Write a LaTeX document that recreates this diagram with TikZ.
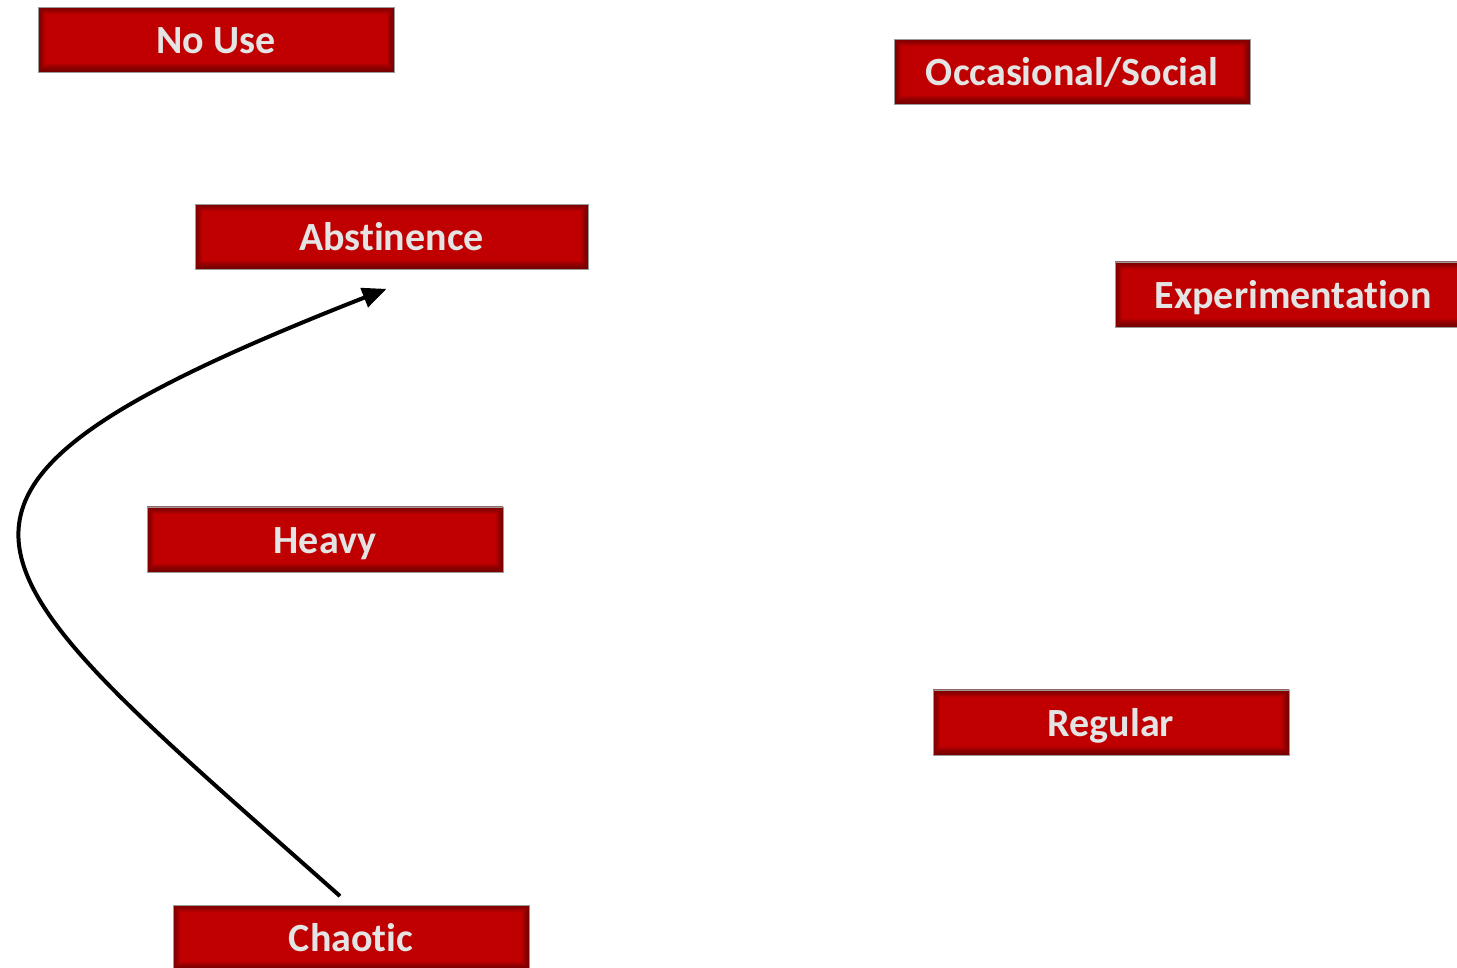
\documentclass[tikz,border=0pt]{standalone}
\usepackage{fontspec}
\setmainfont{Carlito}[Ligatures=CommonOff]
\usepackage{tikz}
\usetikzlibrary{arrows.meta}
\definecolor{boxred}{HTML}{C00000}
\definecolor{boxdark}{HTML}{500000}
\definecolor{boxedge}{HTML}{9A9A9A}
\definecolor{boxtext}{HTML}{E4E4E4}
\newcommand{\stagefont}{\bfseries\fontsize{40}{48}\selectfont}
\tikzset{
  stage/.style={rectangle, minimum width=356pt, minimum height=65pt, inner sep=0pt,
    text height=28pt, text depth=0pt,
    fill=boxred, draw=boxedge, line width=0.8pt, text=boxtext, font=\stagefont,
    path picture={
      \foreach \i in {1,...,7}
        \draw[boxdark, opacity=0.12, line width=2*\i pt]
          ([yshift=1pt]path picture bounding box.south west) rectangle (path picture bounding box.north east);
    }},
  move/.style={line width=4pt, -{Triangle[length=24pt,width=20pt]}}
}

\begin{document}
\begin{tikzpicture}[x=1pt,y=1pt]
    \useasboundingbox (0,0) rectangle (1457,968);
    \clip (0,0) rectangle (1457,968);
    \node[stage] (nouse) at (216,928) {No Use};
    \node[stage] (social) at (1072,896) {Occasional/Social};
    \node[stage, minimum width=393pt] (abstinence) at (391.5,731) {Abstinence};
    \node[stage] (experiment) at (1293,673.5) {Experimentation};
    \node[stage] (heavy) at (325,428.5) {Heavy};
    \node[stage] (regular) at (1111,245.5) {Regular};
    \node[stage] (chaotic) at (351,30) {Chaotic};
    % relapse back up to abstinence
    \draw[move] ([xshift=-11pt,yshift=9pt]chaotic.north)
        .. controls (-38,408) and (-146,470) .. ([xshift=-5pt,yshift=-19pt]abstinence.south);
\end{tikzpicture}
\end{document}
